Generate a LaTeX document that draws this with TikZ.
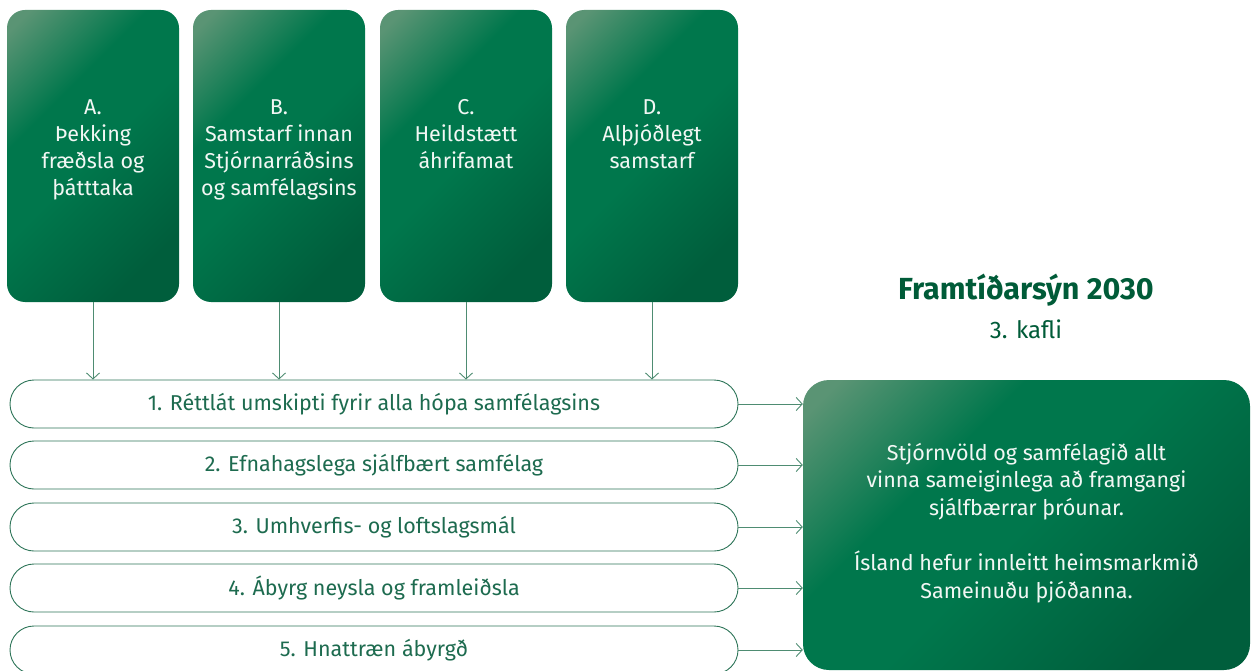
\documentclass[tikz,border=0pt]{standalone}
\usepackage{fontspec}
\setmainfont{Fira Sans}
\usetikzlibrary{arrows.meta,calc}
\definecolor{glight}{HTML}{5A9474}
\definecolor{gmid}{HTML}{00774C}
\definecolor{gdark}{HTML}{005E3C}
\definecolor{titlegreen}{HTML}{005B38}
\definecolor{pilltext}{HTML}{1D6B4F}
\definecolor{pillborder}{HTML}{2E7559}
\definecolor{arrowgreen}{HTML}{4E8C72}
\definecolor{boxtext}{HTML}{F2F7F4}
\pgfdeclareverticalshading{gshade}{100bp}{color(0bp)=(gdark); color(25bp)=(gdark); color(50bp)=(gmid); color(64bp)=(gmid); color(82bp)=(glight); color(100bp)=(glight)}
\tikzset{
  topbox/.style={shading=gshade, shading angle=45, rounded corners=18pt, minimum width=172pt, minimum height=292pt, inner sep=0pt},
  rightbox/.style={shading=gshade, shading angle=45, rounded corners=26pt, minimum width=447pt, minimum height=290pt, inner sep=0pt},
  toptext/.style={text=boxtext, align=center, inner sep=0pt, anchor=north, font=\fontsize{21.5}{27}\selectfont},
  pill/.style={draw=pillborder, line width=0.9pt, fill=white, rounded corners=24pt, minimum width=728pt, minimum height=48pt, inner sep=0pt, text=pilltext, font=\fontsize{21.5}{27}\selectfont},
  conn/.style={draw=arrowgreen, line width=0.9pt, -{Straight Barb[length=6pt,width=13pt,line width=0.9pt]}},
}
\begin{document}
\begin{tikzpicture}[x=1pt,y=-1pt]
\useasboundingbox (0,0) rectangle (1252,671);
% top boxes
\node[topbox] (A) at (93,156) {};
\node[topbox] (B) at (279,156) {};
\node[topbox] (C) at (466,156) {};
\node[topbox] (D) at (652,156) {};
\node[toptext] (At) at (93,99) {A.\\Þekking\\fræðsla og\\þátttaka};
\node[toptext] (Bt) at (279,99) {B.\\Samstarf innan\\Stjórnarráðsins\\og samfélagsins};
\node[toptext] (Ct) at (466,99) {C.\\Heildstætt\\áhrifamat};
\node[toptext] (Dt) at (652,99) {D.\\Alþjóðlegt\\samstarf};
% pills
\node[pill] (p1) at (374,404) {1. Réttlát umskipti fyrir alla hópa samfélagsins};
\node[pill] (p2) at (374,465) {2. Efnahagslega sjálfbært samfélag};
\node[pill] (p3) at (374,527) {3. Umhverfis- og loftslagsmál};
\node[pill] (p4) at (374,588) {4. Ábyrg neysla og framleiðsla};
\node[pill] (p5) at (374,650) {5. Hnattræn ábyrgð};
% right box
\node[rightbox] (R) at (1026.5,525) {};
\node[text=boxtext, align=center, inner sep=0pt, font=\fontsize{21.5}{27.7}\selectfont] (Rt) at (1026.5,523) {Stjórnvöld og samfélagið allt\\vinna sameiginlega að framgangi\\sjálfbærrar þróunar.\\[27.7pt]Ísland hefur innleitt heimsmarkmið\\Sameinuðu þjóðanna.};
% title
\node[text=titlegreen, font=\fontsize{30.5}{34}\selectfont\bfseries, inner sep=0pt] (T) at (1026,290) {Framtíðarsýn 2030};
\node[text=titlegreen, font=\fontsize{24}{28}\selectfont, inner sep=0pt] (T2) at (1026,329) {3. kafli};
% connectors
\foreach \n in {A,B,C,D} {
  \draw[conn] (\n.south) -- (\n.south |- p1.north);
}
\foreach \n in {p1,p2,p3,p4,p5} {
  \draw[conn] (\n.east) -- (\n.east -| R.west);
}
\end{tikzpicture}
\end{document}
